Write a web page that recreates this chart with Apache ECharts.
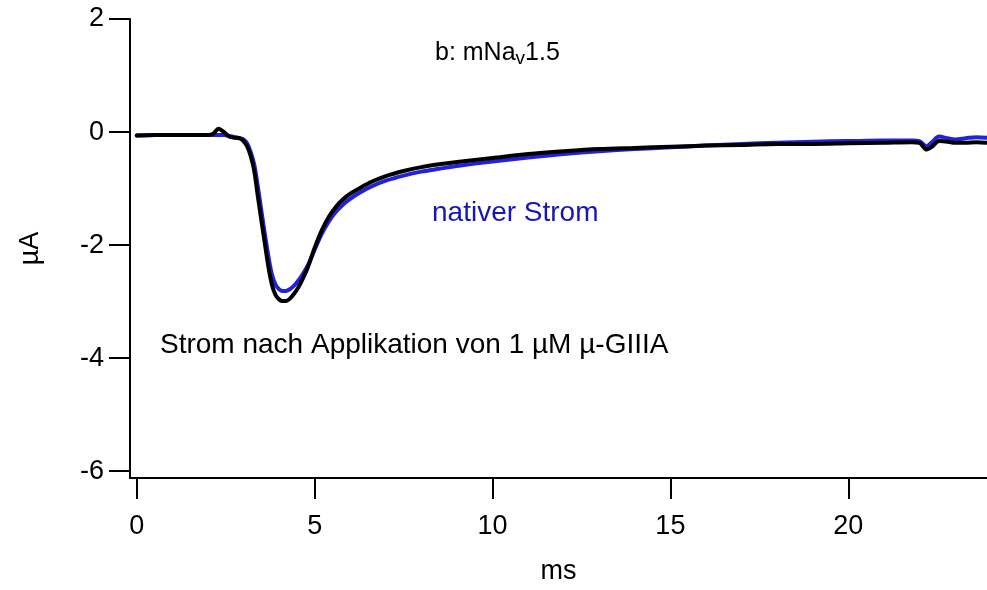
<!DOCTYPE html>
<html>
<head>
<meta charset="utf-8">
<script src="https://cdn.jsdelivr.net/npm/echarts@6/dist/echarts.min.js"></script>
<style>
  html, body { margin: 0; padding: 0; background: #fff; }
  #chart { width: 987px; height: 590px; }
</style>
</head>
<body>
<div id="chart"></div>
<script>
// Time base of the recorded sweeps (ms)
const timeMs = [0, 0.5, 1.0, 1.5, 2.0, 2.15, 2.3, 2.45, 2.6, 2.75, 2.9, 3.0, 3.1, 3.2, 3.3, 3.4, 3.5, 3.6, 3.7, 3.8, 3.9, 4.0, 4.1, 4.2, 4.3, 4.4, 4.5, 4.6, 4.8, 5.0, 5.2, 5.4, 5.6, 5.8, 6.0, 6.3, 6.6, 7.0, 7.5, 8.0, 8.5, 9.0, 10, 11, 12, 13, 14, 15, 16, 17, 18, 19, 20, 21, 21.8, 22.0, 22.2, 22.35, 22.55, 22.8, 23.0, 23.3, 23.6, 23.9];

// Native sodium current (µA)
const nativeCurrent = [-0.06, -0.05, -0.05, -0.05, -0.05, -0.05, -0.05, -0.05, -0.07, -0.09, -0.11, -0.13, -0.2, -0.35, -0.57, -0.95, -1.38, -1.8, -2.2, -2.52, -2.7, -2.78, -2.81, -2.81, -2.78, -2.73, -2.66, -2.58, -2.37, -2.08, -1.8, -1.58, -1.41, -1.28, -1.18, -1.06, -0.96, -0.86, -0.77, -0.7, -0.65, -0.6, -0.52, -0.45, -0.39, -0.34, -0.3, -0.27, -0.24, -0.21, -0.19, -0.17, -0.16, -0.15, -0.15, -0.16, -0.25, -0.18, -0.08, -0.11, -0.13, -0.11, -0.09, -0.1];

// Current after 1 µM µ-GIIIA (µA)
const toxinCurrent = [-0.06, -0.05, -0.05, -0.05, -0.05, -0.03, 0.06, 0.0, -0.08, -0.1, -0.11, -0.16, -0.25, -0.42, -0.68, -1.12, -1.55, -1.97, -2.38, -2.7, -2.88, -2.96, -2.99, -2.99, -2.95, -2.88, -2.79, -2.68, -2.41, -2.05, -1.74, -1.5, -1.32, -1.19, -1.09, -0.98, -0.88, -0.78, -0.69, -0.62, -0.57, -0.53, -0.46, -0.39, -0.34, -0.3, -0.28, -0.26, -0.24, -0.23, -0.21, -0.21, -0.2, -0.19, -0.18, -0.19, -0.31, -0.26, -0.16, -0.17, -0.19, -0.19, -0.18, -0.19];

// Axis tick values
const xTicks = [0, 5, 10, 15, 20];
const yTicks = [-6, -4, -2, 0, 2];

const FONT = '"Liberation Sans", Arial, Helvetica, sans-serif';

const pairs = (xs, ys) => xs.map((x, i) => [x, ys[i]]);

const chart = echarts.init(document.getElementById('chart'), null, { renderer: 'canvas' });

chart.setOption({
  backgroundColor: '#ffffff',
  animation: false,
  grid: { left: 130, right: 0, top: 19, bottom: 107, containLabel: false },
  title: {
    text: '{a|b: mNa}{v|v}{a|1.5}',
    left: 430,
    top: 36,
    textStyle: {
      rich: {
        a: { fontFamily: FONT, fontSize: 25, fontWeight: 'normal', color: '#000', verticalAlign: 'bottom' },
        v: { fontFamily: FONT, fontSize: 19, fontWeight: 'normal', color: '#000', verticalAlign: 'bottom', padding: [0, 0, -2, 0] }
      }
    }
  },
  xAxis: {
    type: 'value',
    min: -0.19,
    max: 23.9,
    name: 'ms',
    nameLocation: 'middle',
    nameGap: 80,
    nameTextStyle: { fontFamily: FONT, fontSize: 27, color: '#000' },
    axisLine: { show: true, onZero: false, lineStyle: { color: '#000', width: 2 } },
    axisTick: { show: true, inside: false, length: 21, customValues: xTicks, lineStyle: { color: '#000', width: 2 } },
    axisLabel: { customValues: xTicks, fontFamily: FONT, fontSize: 27, color: '#000', margin: 35 },
    splitLine: { show: false }
  },
  yAxis: {
    type: 'value',
    min: -6.12,
    max: 2,
    name: 'µA',
    nameLocation: 'middle',
    nameGap: 86,
    nameTextStyle: { fontFamily: FONT, fontSize: 27, color: '#000' },
    axisLine: { show: true, onZero: false, lineStyle: { color: '#000', width: 2 } },
    axisTick: { show: true, inside: false, length: 21, customValues: yTicks, lineStyle: { color: '#000', width: 2 } },
    axisLabel: { customValues: yTicks, fontFamily: FONT, fontSize: 27, color: '#000', margin: 26 },
    splitLine: { show: false }
  },
  series: [
    {
      name: 'nativer Strom',
      type: 'line',
      data: pairs(timeMs, nativeCurrent),
      showSymbol: false,
      smooth: 0.3,
      lineStyle: { color: '#2222dc', width: 4, cap: 'round', join: 'round' },
      z: 2
    },
    {
      name: 'Strom nach Applikation von 1 µM µ-GIIIA',
      type: 'line',
      data: pairs(timeMs, toxinCurrent),
      showSymbol: false,
      smooth: 0.3,
      lineStyle: { color: '#000000', width: 4, cap: 'round', join: 'round' },
      z: 3
    }
  ],
  graphic: [
    {
      type: 'text',
      x: 432,
      y: 213,
      style: { text: 'nativer Strom', fill: '#1616b8', font: '28px ' + FONT, verticalAlign: 'middle' }
    },
    {
      type: 'text',
      x: 160,
      y: 345,
      style: { text: 'Strom nach Applikation von 1 µM µ-GIIIA', fill: '#000', font: '28px ' + FONT, verticalAlign: 'middle' }
    }
  ]
});
</script>
</body>
</html>
